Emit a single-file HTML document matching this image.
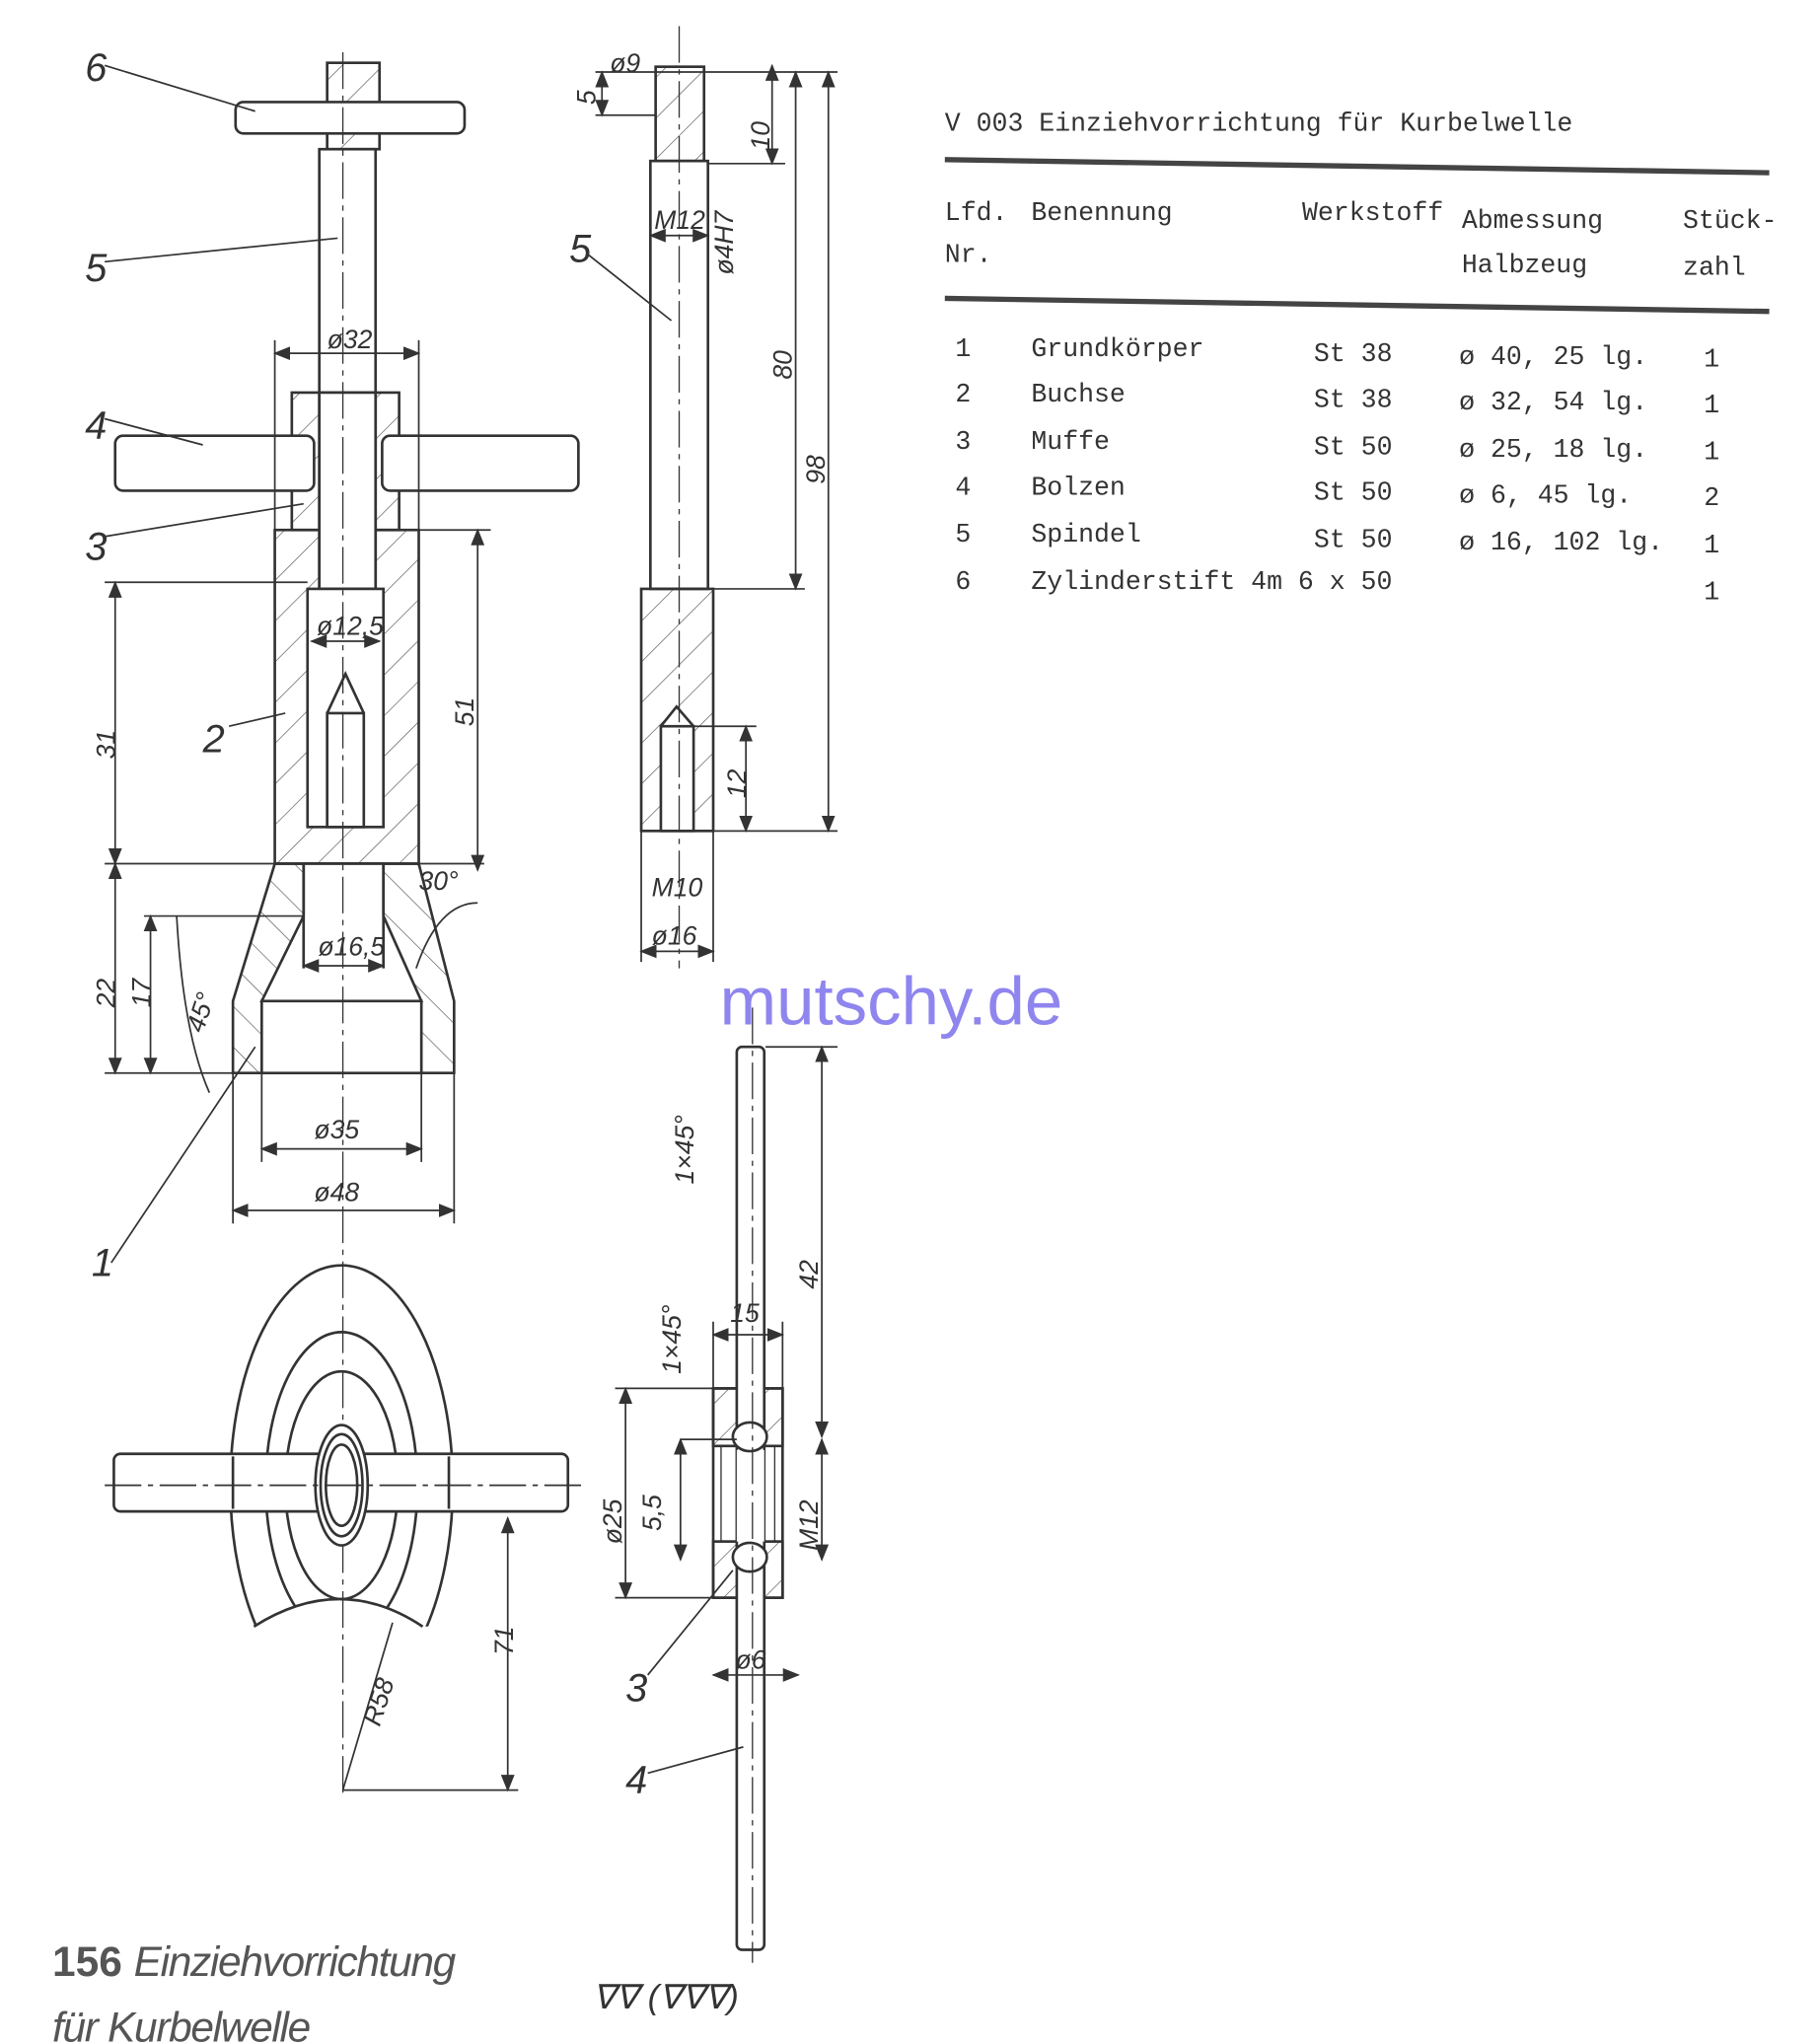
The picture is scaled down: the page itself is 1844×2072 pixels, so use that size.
<!DOCTYPE html>
<html><head><meta charset="utf-8"><style>
html,body{margin:0;padding:0;background:#fff;}
svg{display:block}
.t{font-family:"Liberation Mono",monospace;font-size:20px;fill:#333;}
.d{font-family:"Liberation Sans",sans-serif;font-size:20px;fill:#333;font-style:italic}
</style></head><body>
<svg width="1844" height="2072" viewBox="0 0 1390 1562" preserveAspectRatio="none" xmlns="http://www.w3.org/2000/svg">
<defs>
<pattern id="h" width="22" height="22" patternUnits="userSpaceOnUse" patternTransform="rotate(45)">
<line x1="0" y1="0" x2="0" y2="22" stroke="#555" stroke-width="1"/></pattern>
<pattern id="h2" width="22" height="22" patternUnits="userSpaceOnUse" patternTransform="rotate(-45)">
<line x1="0" y1="0" x2="0" y2="22" stroke="#555" stroke-width="1"/></pattern>
<marker id="a" markerWidth="10" markerHeight="8" refX="9" refY="4" orient="auto-start-reverse"><path d="M0,0L10,4L0,8z" fill="#333"/></marker>
<clipPath id="cut"><path d="M0,0H500V1243L323,1243Q260,1201 194,1243L0,1243Z"/></clipPath>
</defs>
<g stroke="#333" stroke-width="2" fill="none">
<!-- main assembly -->
<rect x="250" y="48" width="40" height="66" fill="url(#h)"/>
<rect x="180" y="78" width="175" height="24" rx="6" fill="#fff"/>
<rect x="244" y="114" width="43" height="336" fill="#fff"/>
<rect x="223" y="300" width="82" height="105" fill="url(#h)"/>
<rect x="210" y="405" width="110" height="255" fill="url(#h)"/>
<rect x="244" y="300" width="43" height="150" fill="#fff"/>
<rect x="235" y="450" width="58" height="182" fill="#fff"/>
<rect x="250" y="545" width="28" height="87" fill="#fff"/>
<path d="M250,545L264,515L278,545"/>
<rect x="88" y="333" width="152" height="42" rx="6" fill="#fff"/>
<rect x="292" y="333" width="150" height="42" rx="6" fill="#fff"/>
<path d="M210,660L320,660L347,765L347,820L178,820L178,765Z" fill="url(#h2)"/>
<path d="M232,660L293,660L293,700L322,765L200,765L232,700Z" fill="#fff"/>
<rect x="200" y="765" width="122" height="55" fill="#fff"/>
<path d="M232,660V740M293,660V740"/>
<path d="M262,40V1370" stroke-dasharray="28,5,4,5" stroke-width="1"/>
</g>
<g stroke="#333" stroke-width="1.3" fill="none">
<line x1="210" y1="270" x2="320" y2="270" marker-start="url(#a)" marker-end="url(#a)"/>
<path d="M210,260V405M320,260V405"/>
<line x1="88" y1="445" x2="88" y2="660" marker-start="url(#a)" marker-end="url(#a)"/>
<line x1="88" y1="660" x2="88" y2="820" marker-start="url(#a)" marker-end="url(#a)"/>
<line x1="115" y1="700" x2="115" y2="820" marker-start="url(#a)" marker-end="url(#a)"/>
<path d="M80,445H235M80,660H370M110,700H232M80,820H178"/>
<line x1="365" y1="405" x2="365" y2="665" marker-start="url(#a)" marker-end="url(#a)"/>
<path d="M320,405H375"/>
<line x1="200" y1="878" x2="322" y2="878" marker-start="url(#a)" marker-end="url(#a)"/>
<line x1="178" y1="925" x2="347" y2="925" marker-start="url(#a)" marker-end="url(#a)"/>
<path d="M200,820V888M322,820V888M178,820V935M347,820V935"/>
<line x1="238" y1="490" x2="290" y2="490" marker-start="url(#a)" marker-end="url(#a)"/>
<line x1="232" y1="738" x2="293" y2="738" marker-start="url(#a)" marker-end="url(#a)"/>
<path d="M135,700Q140,790 160,835M318,740Q335,690 365,690"/>
<path d="M80,50L195,85M80,200L258,182M80,320L155,340M80,410L232,385M175,555L218,545M85,965L195,800"/>
</g>
<!-- top view -->
<g stroke="#333" stroke-width="2" fill="none">
<g clip-path="url(#cut)">
<ellipse cx="261" cy="1135" rx="85" ry="168"/>
<ellipse cx="261" cy="1135" rx="58" ry="117"/>
<ellipse cx="261" cy="1135" rx="43" ry="87"/>
</g>
<path d="M194,1243Q260,1201 323,1243"/>
<rect x="87" y="1111" width="347" height="44" rx="5" fill="#fff"/>
<path d="M178,1113V1153M343,1113V1153"/>
<ellipse cx="261" cy="1135" rx="20" ry="46" fill="#fff"/>
<ellipse cx="261" cy="1135" rx="16" ry="39"/>
<ellipse cx="261" cy="1135" rx="12" ry="31"/>
</g>
<g stroke="#333" stroke-width="1.3" fill="none">
<path d="M80,1135H445" stroke-dasharray="28,5,4,5"/>
<line x1="388" y1="1160" x2="388" y2="1368" marker-start="url(#a)" marker-end="url(#a)"/>
<path d="M262,1368H396M262,1368L300,1240"/>
</g>
<!-- spindle detail -->
<g stroke="#333" stroke-width="2" fill="none">
<rect x="501" y="51" width="37" height="72" fill="url(#h)"/>
<rect x="497" y="123" width="44" height="327"/>
<rect x="490" y="450" width="55" height="185" fill="url(#h)"/>
<rect x="505" y="555" width="25" height="80" fill="#fff"/>
<path d="M505,555L517,540L530,555"/>
<path d="M519,20V740" stroke-dasharray="28,5,4,5" stroke-width="1"/>
</g>
<g stroke="#333" stroke-width="1.3" fill="none">
<line x1="460" y1="55" x2="460" y2="88" marker-start="url(#a)" marker-end="url(#a)"/>
<line x1="590" y1="50" x2="590" y2="125" marker-start="url(#a)" marker-end="url(#a)"/>
<line x1="608" y1="55" x2="608" y2="450" marker-start="url(#a)" marker-end="url(#a)"/>
<line x1="633" y1="55" x2="633" y2="635" marker-start="url(#a)" marker-end="url(#a)"/>
<line x1="570" y1="555" x2="570" y2="635" marker-start="url(#a)" marker-end="url(#a)"/>
<line x1="497" y1="180" x2="541" y2="180" marker-start="url(#a)" marker-end="url(#a)"/>
<line x1="490" y1="727" x2="545" y2="727" marker-start="url(#a)" marker-end="url(#a)"/>
<path d="M455,55H640M455,88H501M540,125H600M545,450H615M545,635H640M530,555H578M490,635V735M545,635V735M450,195L513,245"/>
</g>
<!-- muffe detail -->
<g stroke="#333" stroke-width="2" fill="none">
<rect x="545" y="1061" width="53" height="160" fill="#fff"/>
<rect x="545" y="1061" width="53" height="44" fill="url(#h)"/>
<rect x="545" y="1178" width="53" height="43" fill="url(#h)"/>
<path d="M551,1105V1178M592,1105V1178" stroke-width="1"/>
<rect x="563" y="800" width="21" height="690" rx="4" fill="#fff"/>
<rect x="563" y="1108" width="21" height="70" fill="#fff" stroke="none"/>
<ellipse cx="573" cy="1098" rx="13" ry="11" fill="#fff"/>
<ellipse cx="573" cy="1190" rx="13" ry="11" fill="#fff"/>
<path d="M575,770V1500" stroke-dasharray="28,5,4,5" stroke-width="1"/>
</g>
<g stroke="#333" stroke-width="1.3" fill="none">
<line x1="628" y1="800" x2="628" y2="1098" marker-start="url(#a)" marker-end="url(#a)"/>
<line x1="628" y1="1100" x2="628" y2="1192" marker-start="url(#a)" marker-end="url(#a)"/>
<line x1="478" y1="1061" x2="478" y2="1221" marker-start="url(#a)" marker-end="url(#a)"/>
<line x1="520" y1="1100" x2="520" y2="1192" marker-start="url(#a)" marker-end="url(#a)"/>
<line x1="545" y1="1020" x2="598" y2="1020" marker-start="url(#a)" marker-end="url(#a)"/>
<line x1="545" y1="1280" x2="610" y2="1280" marker-start="url(#a)" marker-end="url(#a)"/>
<path d="M470,1061H545M470,1221H545M520,1100H563M585,800H640M545,1010V1061M598,1010V1061M495,1280L560,1200M495,1355L568,1335"/>
</g>
<!-- dimension text -->
<g class="d">
<text x="65" y="62" font-size="30">6</text>
<text x="65" y="215" font-size="30">5</text>
<text x="65" y="335" font-size="30">4</text>
<text x="65" y="428" font-size="30">3</text>
<text x="155" y="575" font-size="30">2</text>
<text x="70" y="975" font-size="30">1</text>
<text x="435" y="200" font-size="30">5</text>
<text x="250" y="266">ø32</text>
<text x="242" y="485">ø12,5</text>
<text x="243" y="730">ø16,5</text>
<text x="240" y="870">ø35</text>
<text x="240" y="918">ø48</text>
<text x="320" y="680">30°</text>
<text x="466" y="55">ø9</text>
<text x="500" y="175">M12</text>
<text x="498" y="685">M10</text>
<text x="498" y="722">ø16</text>
<text x="558" y="1010">15</text>
<text x="562" y="1275">ø6</text>
<text x="478" y="1300" font-size="30">3</text>
<text x="478" y="1370" font-size="30">4</text>
<text x="453" y="1535" font-size="26">∇∇ (∇∇∇)</text>
<g transform="rotate(-90)">
<text x="-580" y="88">31</text>
<text x="-770" y="88">22</text>
<text x="-770" y="115">17</text>
<text x="-555" y="362">51</text>
<text x="-80" y="455">5</text>
<text x="-115" y="588">10</text>
<text x="-210" y="560">ø4H7</text>
<text x="-290" y="605">80</text>
<text x="-370" y="630">98</text>
<text x="-610" y="570">12</text>
<text x="-905" y="530">1×45°</text>
<text x="-1050" y="520">1×45°</text>
<text x="-985" y="625">42</text>
<text x="-1180" y="475">ø25</text>
<text x="-1170" y="505">5,5</text>
<text x="-1185" y="625">M12</text>
<text x="-1265" y="392">71</text>
</g>
<text x="0" y="0" transform="translate(290,1320) rotate(-72)">R58</text>
<text x="0" y="0" transform="translate(155,790) rotate(-72)">45°</text>
</g>
<!-- watermark -->
<text x="550" y="783" font-family="Liberation Sans,sans-serif" font-size="52" fill="#8f85ee">mutschy.de</text>
<!-- table -->
<g class="t">
<text x="722" y="100">V 003  Einziehvorrichtung für Kurbelwelle</text>
<text x="722" y="168">Lfd.</text><text x="722" y="200">Nr.</text>
<text x="788" y="168">Benennung</text>
<text x="995" y="168">Werkstoff</text>
<text x="1117" y="174">Abmessung</text><text x="1117" y="208">Halbzeug</text>
<text x="1286" y="174">Stück-</text><text x="1286" y="210">zahl</text>
<text x="730" y="272">1</text><text x="788" y="272">Grundkörper</text><text x="1004" y="276">St 38</text><text x="1115" y="278">ø 40, 25 lg.</text><text x="1302" y="280">1</text>
<text x="730" y="307">2</text><text x="788" y="307">Buchse</text><text x="1004" y="311">St 38</text><text x="1115" y="313">ø 32, 54 lg.</text><text x="1302" y="315">1</text>
<text x="730" y="343">3</text><text x="788" y="343">Muffe</text><text x="1004" y="347">St 50</text><text x="1115" y="349">ø 25, 18 lg.</text><text x="1302" y="351">1</text>
<text x="730" y="378">4</text><text x="788" y="378">Bolzen</text><text x="1004" y="382">St 50</text><text x="1115" y="384">ø 6, 45 lg.</text><text x="1302" y="386">2</text>
<text x="730" y="414">5</text><text x="788" y="414">Spindel</text><text x="1004" y="418">St 50</text><text x="1115" y="420">ø 16, 102 lg.</text><text x="1302" y="422">1</text>
<text x="730" y="450">6</text><text x="788" y="450">Zylinderstift 4m 6 x 50</text><text x="1302" y="458">1</text>
</g>
<path d="M722,122L1352,132M722,228L1352,238" stroke="#444" stroke-width="4"/>
<!-- caption -->
<text x="40" y="1510" font-family="Liberation Sans,sans-serif" font-size="32" fill="#555"><tspan font-weight="bold">156</tspan> <tspan font-style="italic" letter-spacing="-1">Einziehvorrichtung</tspan></text>
<text x="40" y="1560" font-family="Liberation Sans,sans-serif" font-size="32" font-style="italic" letter-spacing="-1" fill="#555">für Kurbelwelle</text>
</svg>
</body></html>
